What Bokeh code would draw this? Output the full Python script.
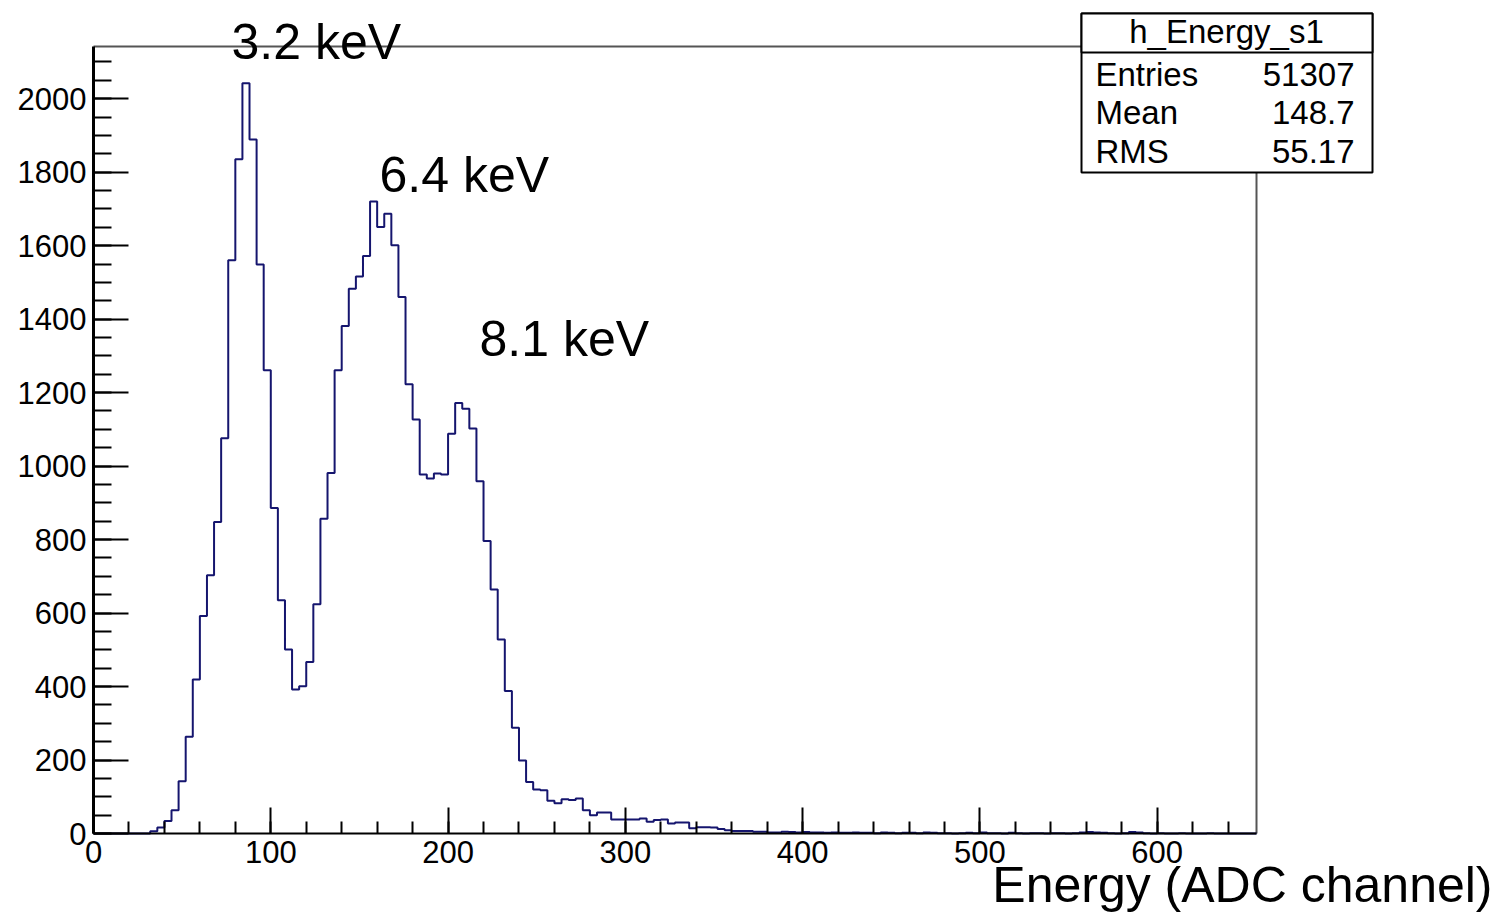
import numpy as np
from bokeh.plotting import figure
from bokeh.models import Label, BoxAnnotation, SingleIntervalTicker, Range1d
from bokeh.embed import file_html
from bokeh.resources import INLINE

# ---------------- data ----------------
bin_width = 4
x_min, x_max = 0, 656
y_max = 2142

counts = [
    0, 0, 0, 0, 0, 0, 0, 0,                 # 0 - 28
    6, 16, 34, 63, 142, 263, 419, 592,      # 32 - 60
    703, 848, 1076, 1560, 1835, 2042, 1889, 1549,   # 64 - 92
    1261, 886, 635, 501, 392, 401, 467, 624,        # 96 - 124
    857, 981, 1261, 1381, 1483, 1516, 1572, 1720,   # 128 - 156
    1651, 1687, 1601, 1460, 1223, 1127, 977, 966,   # 160 - 188
    980, 977, 1088, 1172, 1156, 1102, 959, 796,     # 192 - 220
    664, 528, 388, 288, 199, 140, 120, 118,         # 224 - 252
    89, 82, 93, 91, 95, 63, 50, 57,                 # 256 - 284
    57, 38, 38, 38, 38, 41, 32, 37,                 # 288 - 316
    38, 27, 30, 30, 14, 17, 17, 16,                 # 320 - 348
    12, 9, 7, 7, 7, 5, 5, 3,                        # 352 - 380
    3, 5, 4, 3, 4, 3, 3, 2,                         # 384 - 412
    3, 2, 2, 3, 2, 2, 1, 3,                         # 416 - 444
    2, 1, 2, 2, 1, 3, 2, 1,                         # 448 - 476
    1, 0, 1, 2, 1, 3, 1, 1,                         # 480 - 508
    0, 2, 1, 0, 1, 1, 0, 1,                         # 512 - 540
    1, 0, 1, 3, 4, 3, 2, 1,                         # 544 - 572
    0, 1, 4, 3, 1, 0, 1, 0,                         # 576 - 604
    0, 1, 0, 0, 0, 1, 0, 0,                         # 608 - 636
    0, 0, 0, 0,                                     # 640 - 652
]

peak_labels = ["3.2 keV", "6.4 keV", "8.1 keV"]
stats_title = "h_Energy_s1"
stats_names = ["Entries", "Mean", "RMS"]
stats_values = ["51307", "148.7", "55.17"]
x_axis_label = "Energy (ADC channel)"

# ---------------- layout ----------------
W, H = 1499, 915
FL, FR, FT, FB = 93, 1256, 46, 833      # histogram frame in canvas pixels
FONT = "Liberation Sans"
BASE_SHIFT = 0.37                        # alphabetic-baseline correction (x font size)


def sx(px):
    return x_min + (px - FL) * (x_max - x_min) / (FR - FL)


def sy(py):
    return (FB - py) * y_max / (FB - FT)


def text_label(txt, px, base_py, size, align):
    return Label(x=sx(px), y=sy(base_py - BASE_SHIFT * size), text=txt,
                 text_font=FONT, text_font_size=f"{size}px", text_color="black",
                 text_align=align, text_baseline="alphabetic")


p = figure(width=W, height=H,
           x_range=Range1d(sx(0), sx(W)), y_range=Range1d(sy(H), sy(0)),
           output_backend="svg", toolbar_location=None,
           min_border=0, min_border_left=0, min_border_right=0,
           min_border_top=0, min_border_bottom=0)
p.background_fill_color = "white"
p.border_fill_color = "white"
p.outline_line_color = None
p.xgrid.visible = False
p.ygrid.visible = False

# axes (drawn at the histogram frame edges, limited to the data range)
p.xaxis.ticker = SingleIntervalTicker(interval=100, num_minor_ticks=5)
p.yaxis.ticker = SingleIntervalTicker(interval=200, num_minor_ticks=4)
p.xaxis.fixed_location = 0
p.yaxis.fixed_location = x_min
p.xaxis.bounds = (x_min, x_max)
p.yaxis.bounds = (0, y_max)
for ax in (p.xaxis[0], p.yaxis[0]):
    ax.axis_line_color = "black"
    ax.major_tick_line_color = "black"
    ax.minor_tick_line_color = "black"
    ax.major_tick_line_width = 2
    ax.minor_tick_line_width = 2
    ax.major_tick_out = 0
    ax.minor_tick_out = 0
    ax.major_label_text_font = FONT
    ax.major_label_text_font_size = "31px"
    ax.major_label_text_color = "black"
p.yaxis.axis_line_width = 3
p.xaxis.axis_line_width = 2
p.yaxis.major_tick_in = 35
p.yaxis.minor_tick_in = 18
p.xaxis.major_tick_in = 26
p.xaxis.minor_tick_in = 12
p.yaxis.major_label_standoff = 7
p.xaxis.major_label_standoff = 7

# frame top / right edges
p.line([x_min, x_max, x_max], [y_max, y_max, 0], line_color="#555555", line_width=2)

# histogram outline
edges = x_min + bin_width * np.arange(len(counts) + 1)
xs = np.repeat(edges, 2)
ys = np.concatenate([[0], np.repeat(np.array(counts, dtype=float), 2), [0]])
p.line(xs, ys, line_color="#15156e", line_width=2)

# peak labels
peak_pos = [(231, 60), (379, 193), (479, 357)]
for txt, (px, py) in zip(peak_labels, peak_pos):
    p.add_layout(text_label(txt, px, py, 50, "left"))

# x axis title
p.add_layout(text_label(x_axis_label, 1492, 903, 50, "right"))

# stats box
p.add_layout(BoxAnnotation(left=sx(1081), right=sx(1372), top=sy(13), bottom=sy(172),
                           fill_color="white", fill_alpha=1.0,
                           line_color="black", line_alpha=1.0, line_width=2))
p.add_layout(BoxAnnotation(left=sx(1081), right=sx(1372), top=sy(13), bottom=sy(52),
                           fill_color="white", fill_alpha=1.0,
                           line_color="black", line_alpha=1.0, line_width=2))
p.add_layout(text_label(stats_title, 1226, 43, 33, "center"))
for i, (nm, vl) in enumerate(zip(stats_names, stats_values)):
    base = 86 + i * 38.5
    p.add_layout(text_label(nm, 1095, base, 33, "left"))
    p.add_layout(text_label(vl, 1354, base, 33, "right"))

open("out.html", "w").write(file_html(p, INLINE))
